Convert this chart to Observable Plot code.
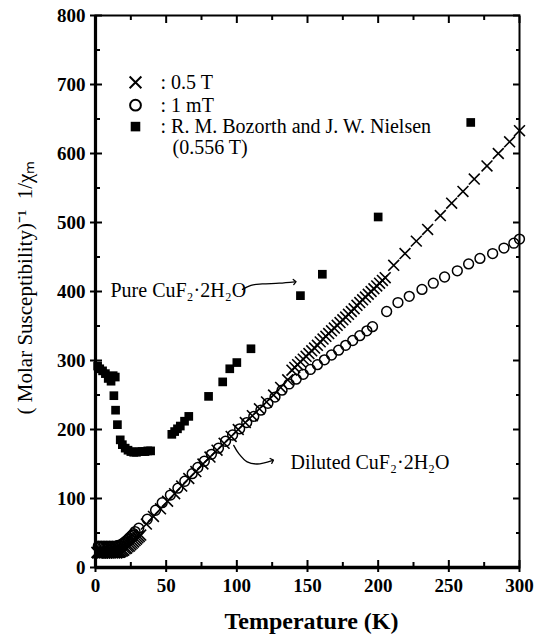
<!DOCTYPE html>
<html><head><meta charset="utf-8">
<script src="https://cdn.jsdelivr.net/npm/d3@7"></script>
<script src="https://cdn.jsdelivr.net/npm/@observablehq/plot@0.6"></script>
<style>body{margin:0;background:#fff} svg{display:block}</style>
</head><body><div id="chart"></div>
<script>
// ---- data ----
// × : 0.5 T
const crossT = [1,1.5,2,2.5,3,3.5,4,4.5,5,5.5,6,6.5,7,7.5,8,8.5,9,9.5,10,10.5,11,11.5,12,12.5,13,13.5,14,14.5,15,15.5,16,16.5,17,17.5,18,19,20,21,22,23,24,25,26,27,28,29,30,31,32,
  36,41,46,51,56,61,66,71,76,81,86,91,96,101,106,111,116,121,126,131,136,
  139,141,143,145,147,149,151,153,155,157,159,161,163,165,167,169,171,173,175,177,179,181,183,185,187,189,191,193,195,197,199,201,203,205,
  211,219,227,235,244,252,260,268,277,285,293,300];
const crossV = [22,21,22,21,22,22,21,22,21,22,22,21,22,22,21,22,22,21,22,21,22,22,21,22,22,21,22,22,21,22,22,22,22,23,23,24,25,27,28,30,31,33,35,37,39,41,43,45,47,
  63,74,85,96,107,118,129,139,150,160,170,180,190,200,210,220,230,240,250,261,272,
  286,290,294,298,302,306,310,314,318,322,327,331,335,339,343,347,351,355,359,363,367,371,375,380,384,388,392,396,400,404,408,412,416,420,
  438,455,473,490,510,528,545,563,582,600,617,633];
// ○ : 1 mT
const circleT = [2,3,4,5,6,7,8,9,10,11,12,13,14,15,16,17,18,19,20,21,22,23,24,25,26,27,28,
  30.6,36.6,42.5,47.2,53,58.3,63.2,68.4,72.4,77,82,87,92,97,102,107,112,117,122,127,132,137,142,147,152,157,162,167,172,177,182,187,192,196,
  206,214,222,231,239,247,256,264,272,281,289,296,300];
const circleV = [31,30,31,30,31,30,31,30,31,30,31,30,31,31,32,32,33,34,36,37,39,41,43,45,47,49,52,
  57,70,83,94,105,115,125,136,145,154,164,173,183,192,201,210,219,228,238,247,257,266,273,280,287,294,301,308,315,322,329,336,343,349,
  371,384,393,403,412,421,430,440,448,455,463,470,476];
// ■ : R. M. Bozorth and J. W. Nielsen (0.556 T)
const squareT = [1.5,3,5,7,9,11,12.5,14,13,14.2,15.5,17.5,19,21,23,25,27,29,31,33,35,37,39,
  54,56,58,60,63,66,80,90,95,100,110,145,160.5,200,265.5];
const squareV = [292,288,285,281,274,270,278,276,249,228,207,185,178,173,170,168,167,167,168,168,168,169,169,
  193,197,201,205,212,219,248,269,288,297,317,394,425,508,645];

const xMajor = [0,50,100,150,200,250,300];
const xMinor = [25,75,125,175,225,275];
const yMajor = [0,100,200,300,400,500,600,700,800];
const yMinor = [50,150,250,350,450,550,650,750];

const xTitle = "Temperature (K)";
const yTitle = "( Molar Susceptibility)⁻¹  1/χₘ";
const legendSymbols = ["times","circle","square"];
const legendLabels = [": 0.5 T", ": 1 mT", ": R. M. Bozorth and J. W. Nielsen"];
const legendExtra = "(0.556 T)";
const pureLabel = "Pure CuF₂·2H₂O";
const dilutedLabel = "Diluted CuF₂·2H₂O";

// ---- annotation anchors (data units) ----
const legendSymT = 28.3, legendTextT = 46, legendRowsV = [703, 670, 639];
const legendExtraPos = {T: 54.5, V: 609};
const purePos = {T: 10.6, V: 401};
const pureArrowT = [104,110,118,130,141];
const pureArrowV = [403,409,411,412,414];
const dilutedPos = {T: 138, V: 152};
const dilArrowT = [97.8,101.4,107.3,114.4,125];
const dilArrowV = [177,165,153,150,155];

const zip = (a, b) => a.map((t, i) => ({T: t, V: b[i]}));
const crosses = zip(crossT, crossV);
const circles = zip(circleT, circleV);
const squares = zip(squareT, squareV);
const legend = legendLabels.map((l, i) => ({label: l, sym: legendSymbols[i], V: legendRowsV[i]}));

const font = "'Liberation Serif', 'Times New Roman', Times, serif";

const plot = Plot.plot({
  width: 535, height: 639,
  marginLeft: 95, marginRight: 16, marginTop: 15, marginBottom: 72,
  x: {domain: [0, 300]},
  y: {domain: [0, 800]},
  style: {fontFamily: font, color: "black", background: "white", overflow: "visible"},
  marks: [
    // data
    Plot.dot(squares, {x: "T", y: "V", symbol: "square", r: 4.9, fill: "black", stroke: "none"}),
    Plot.dot(circles, {x: "T", y: "V", symbol: "circle", r: 4.9, stroke: "black", strokeWidth: 1.5, fill: "none"}),
    Plot.dot(crosses, {x: "T", y: "V", symbol: "times", r: 5, stroke: "black", strokeWidth: 1.6}),
    // frame & axes
    Plot.frame({stroke: "black", strokeWidth: 2}),
    Plot.ruleX([0], {stroke: "black", strokeWidth: 3.2}),
    Plot.ruleY([0], {stroke: "black", strokeWidth: 3.5}),
    Plot.axisY({ticks: yMajor, tickSize: 5, tickPadding: 5, fontSize: 19, fontWeight: "bold", label: null, strokeWidth: 2}),
    Plot.axisY({ticks: yMajor, tickSize: -7, fill: "none", label: null, strokeWidth: 2}),
    Plot.axisY({ticks: yMinor, tickSize: -5, fill: "none", label: null, strokeWidth: 2}),
    Plot.axisY({ticks: yMajor, anchor: "right", tickSize: -7, fill: "none", label: null, strokeWidth: 2}),
    Plot.axisY({ticks: yMinor, anchor: "right", tickSize: -4, fill: "none", label: null, strokeWidth: 2}),
    Plot.axisX({ticks: xMajor, tickSize: 5, tickPadding: 6, fontSize: 19, fontWeight: "bold", label: null, strokeWidth: 2}),
    Plot.axisX({ticks: xMajor, tickSize: -7, fill: "none", label: null, strokeWidth: 2}),
    Plot.axisX({ticks: xMinor, tickSize: -5, fill: "none", label: null, strokeWidth: 2}),
    Plot.axisX({ticks: xMajor, anchor: "top", tickSize: -7, fill: "none", label: null, strokeWidth: 2}),
    Plot.axisX({ticks: xMinor, anchor: "top", tickSize: -4, fill: "none", label: null, strokeWidth: 2}),
    // titles
    Plot.text([xTitle], {text: d => d, frameAnchor: "bottom", dx: 4, dy: 61, fontSize: 24, fontWeight: "bold"}),
    Plot.text([yTitle], {text: d => d, frameAnchor: "left", textAnchor: "middle", rotate: -90, dx: -70, dy: -4, fontSize: 21}),
    // legend
    Plot.dot(legend, {x: () => legendSymT, y: "V", symbol: "sym", r: 5.4, stroke: d => d.sym === "square" ? "none" : "black",
      fill: d => d.sym === "square" ? "black" : "none", strokeWidth: 2}),
    Plot.text(legend, {x: () => legendTextT, y: "V", text: "label", textAnchor: "start", fontSize: 20}),
    Plot.text([legendExtra], {x: () => legendExtraPos.T, y: () => legendExtraPos.V, text: d => d, textAnchor: "start", fontSize: 20}),
    // annotations
    Plot.text([pureLabel], {x: () => purePos.T, y: () => purePos.V, text: d => d, textAnchor: "start", fontSize: 20}),
    Plot.line(zip(pureArrowT, pureArrowV), {x: "T", y: "V", curve: "catmull-rom", stroke: "black", strokeWidth: 1.3, markerEnd: "arrow"}),
    Plot.text([dilutedLabel], {x: () => dilutedPos.T, y: () => dilutedPos.V, text: d => d, textAnchor: "start", fontSize: 20}),
    Plot.line(zip(dilArrowT, dilArrowV), {x: "T", y: "V", curve: "catmull-rom", stroke: "black", strokeWidth: 1.3, markerEnd: "arrow"})
  ]
});
document.getElementById("chart").appendChild(plot);
</script>
</body></html>
